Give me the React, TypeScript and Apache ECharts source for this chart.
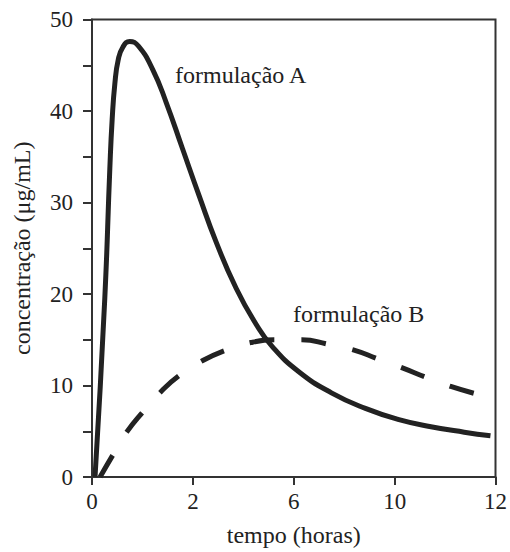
import React, { useEffect, useRef } from "react";
import * as echarts from "echarts";

// x values are positions along the printed axis (evenly spaced ticks labelled 0, 2, 6, 10, 12)
const xTickValues = [0, 3, 6, 9, 12];
const xTickLabels = ["0", "2", "6", "10", "12"];

const formulacaoA: [number, number][] = [
  [0.09, 0],
  [0.38, 19.5],
  [0.53, 33.7],
  [0.6, 39.1],
  [0.68, 43.0],
  [0.78, 45.6],
  [0.92, 47.0],
  [1.12, 47.6],
  [1.38, 47.1],
  [1.81, 44.5],
  [2.21, 40.9],
  [2.69, 35.9],
  [3.19, 30.7],
  [3.69, 25.7],
  [4.29, 20.6],
  [4.88, 16.7],
  [5.35, 14.3],
  [6.15, 11.5],
  [7.12, 9.2],
  [8.13, 7.5],
  [9.1, 6.3],
  [10.08, 5.5],
  [11.07, 4.9],
  [11.85, 4.5],
];

const formulacaoB: [number, number][] = [
  [0.24, 0],
  [0.62, 2.4],
  [1.03, 4.9],
  [1.51, 7.1],
  [2.07, 9.4],
  [2.6, 11.1],
  [3.28, 12.7],
  [3.93, 13.8],
  [4.73, 14.7],
  [5.47, 15.0],
  [6.24, 15.0],
  [7.03, 14.5],
  [7.77, 13.9],
  [8.51, 12.9],
  [9.25, 11.9],
  [9.93, 10.9],
  [10.67, 9.9],
  [11.41, 9.1],
];

const labelA = "formulação A";
const labelB = "formulação B";
const xName = "tempo (horas)";
const yName = "concentração (μg/mL)";

const FONT = "'Liberation Serif', 'Times New Roman', serif";
const INK = "#222";

export default function App() {
  const ref = useRef<HTMLDivElement>(null);
  useEffect(() => {
    if (!ref.current) return;
    const chart = echarts.init(ref.current, undefined, { renderer: "svg" });
    chart.setOption({
      animation: false,
      backgroundColor: "#fff",
      grid: {
        left: 92,
        right: 12,
        top: 19.5,
        bottom: 72,
        show: true,
        borderColor: "#333",
        borderWidth: 2,
        backgroundColor: "transparent",
      },
      xAxis: {
        type: "value",
        min: 0,
        max: 12,
        interval: 3,
        name: xName,
        nameLocation: "middle",
        nameGap: 46,
        nameTextStyle: { fontFamily: FONT, fontSize: 24, color: INK },
        axisLine: { show: true, lineStyle: { color: "#333", width: 2 } },
        axisTick: { show: true, length: 8, lineStyle: { color: "#333", width: 2 } },
        axisLabel: {
          fontFamily: FONT,
          fontSize: 23,
          color: INK,
          margin: 13,
          formatter: (v: number) => {
            const i = xTickValues.indexOf(v);
            return i >= 0 ? xTickLabels[i] : "";
          },
        },
        splitLine: { show: false },
      },
      yAxis: {
        type: "value",
        min: 0,
        max: 50,
        interval: 5,
        name: yName,
        nameLocation: "middle",
        nameGap: 58,
        nameTextStyle: { fontFamily: FONT, fontSize: 24, color: INK },
        axisLine: { show: true, lineStyle: { color: "#333", width: 2 } },
        axisTick: { show: true, length: 9, lineStyle: { color: "#333", width: 2 } },
        axisLabel: {
          fontFamily: FONT,
          fontSize: 23,
          color: INK,
          margin: 19,
          formatter: (v: number) => (v % 10 === 0 ? String(v) : ""),
        },
        splitLine: { show: false },
      },
      series: [
        {
          name: labelA,
          type: "line",
          data: formulacaoA,
          smooth: 0.5,
          showSymbol: false,
          symbol: "none",
          lineStyle: { color: INK, width: 5 },
          z: 3,
        },
        {
          name: labelB,
          type: "line",
          data: formulacaoB,
          smooth: 0.5,
          showSymbol: false,
          symbol: "none",
          lineStyle: { color: INK, width: 5, type: [25, 27], cap: "butt" },
          z: 2,
        },
      ],
      graphic: [
        {
          type: "text",
          left: 175,
          top: 63,
          style: { text: labelA, font: `24px ${FONT}`, fill: INK },
        },
        {
          type: "text",
          left: 293,
          top: 302,
          style: { text: labelB, font: `24px ${FONT}`, fill: INK },
        },
      ],
    });
    return () => chart.dispose();
  }, []);
  return <div ref={ref} style={{ width: 510, height: 552, position: "absolute", left: 0, top: 0 }} />;
}
